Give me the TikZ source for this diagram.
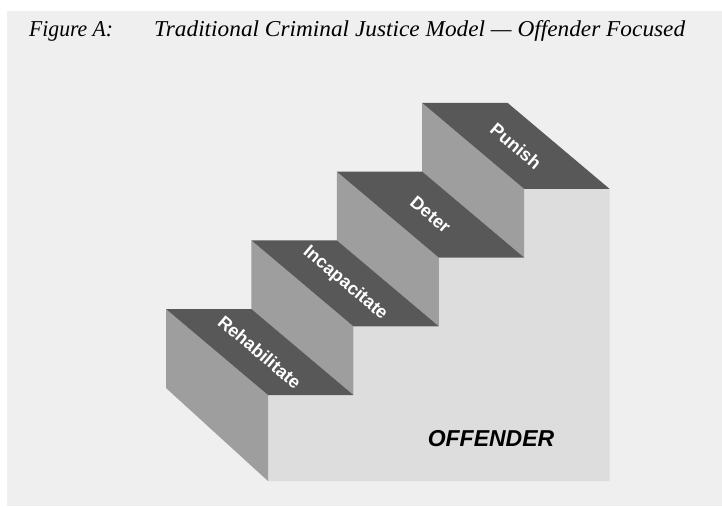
\documentclass[tikz,border=0pt]{standalone}
\usepackage{fontspec}
\setmainfont{Liberation Serif}
\setsansfont{Liberation Sans}
\usepackage{graphicx}
\definecolor{panel}{RGB}{239,239,239}
\definecolor{sideface}{RGB}{221,221,221}
\definecolor{riserc}{RGB}{158,158,158}
\definecolor{treadc}{RGB}{88,88,88}
\begin{document}
\begin{tikzpicture}[x=1pt,y=-1pt,
  steplabel/.style={text=white, font=\sffamily\bfseries\fontsize{18}{18}\selectfont, rotate=-40.1, inner sep=0pt},
  titletext/.style={anchor=base west, inner sep=0pt},
  treadface/.style={fill=treadc},
  riserface/.style={fill=riserc},
  sidefacestyle/.style={fill=sideface}]
\useasboundingbox (0,0) rectangle (722,506);
\fill[white] (0,0) rectangle (722,506);
\fill[panel] (7,11) rectangle (722,506);

% title
\node[titletext] (figlabel) at (29,36.7) {\resizebox{84pt}{\height}{\fontsize{22.7}{24}\selectfont\itshape Figure A:}};
\node[titletext] (title) at (154,36.7) {\resizebox{531pt}{\height}{\fontsize{22.7}{24}\selectfont\itshape Traditional Criminal Justice Model — Offender Focused}};

% side face
\path[sidefacestyle] (268,481) -- (268,395) -- (353.4,395) -- (353.4,326.3) -- (438.8,326.3) -- (438.8,257.6) -- (524.2,257.6) -- (524.2,188.9) -- (609.6,188.9) -- (609.6,481) -- cycle;

% risers
\path[riserface] (166,309) -- (166,388) -- (268,481) -- (268,395) -- cycle;
\path[riserface] (251.4,240.3) -- (251.4,309) -- (353.4,395) -- (353.4,326.3) -- cycle;
\path[riserface] (336.8,171.6) -- (336.8,240.3) -- (438.8,326.3) -- (438.8,257.6) -- cycle;
\path[riserface] (422.2,102.9) -- (422.2,171.6) -- (524.2,257.6) -- (524.2,188.9) -- cycle;

% treads
\path[treadface] (166,309) -- (251.4,309) -- (353.4,395) -- (268,395) -- cycle;
\path[treadface] (251.4,240.3) -- (336.8,240.3) -- (438.8,326.3) -- (353.4,326.3) -- cycle;
\path[treadface] (336.8,171.6) -- (422.2,171.6) -- (524.2,257.6) -- (438.8,257.6) -- cycle;
\path[treadface] (422.2,102.9) -- (507.6,102.9) -- (609.6,188.9) -- (524.2,188.9) -- cycle;

% labels
\node[steplabel] (rehab) at (259.7,352) {Rehabilitate};
\node[steplabel] (incap) at (345.1,283.3) {Incapacitate};
\node[steplabel] (deter) at (430.5,214.6) {Deter};
\node[steplabel] (punish) at (515.9,145.9) {Punish};

\node[inner sep=0pt, font=\sffamily\bfseries\itshape\fontsize{23}{23}\selectfont] (offender) at (491,439) {OFFENDER};
\end{tikzpicture}
\end{document}
